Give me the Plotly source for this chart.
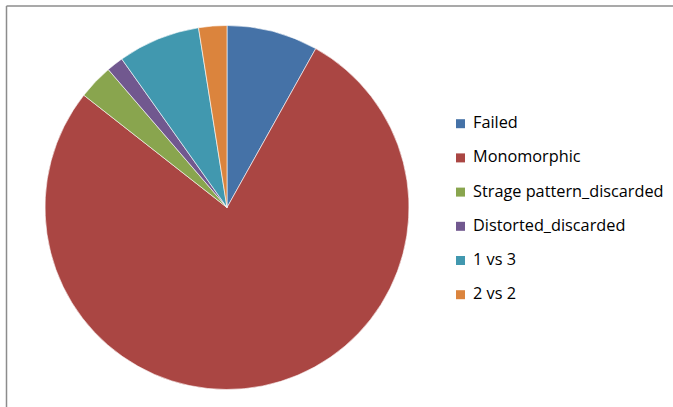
import plotly.graph_objects as go

# Share of markers by outcome (%)
labels = ["Failed", "Monomorphic", "Strage pattern_discarded",
          "Distorted_discarded", "1 vs 3", "2 vs 2"]
values = [8.1, 77.4, 3.1, 1.5, 7.3, 2.5]
colors = ["#4572A7", "#AA4643", "#89A54E", "#71588F", "#4198AF", "#DB843D"]

W, H = 673, 407
FONT = "Open Sans"

fig = go.Figure()
fig.add_trace(go.Pie(
    labels=labels, values=values, sort=False, direction="clockwise",
    rotation=0, textinfo="none", hoverinfo="label+percent",
    marker=dict(colors=colors, line=dict(color="white", width=0.6)),
    domain=dict(x=[45 / W, 409 / W], y=[(H - 389.5) / H, (H - 25.5) / H]),
    showlegend=False,
))

# Legend drawn as squares + text at right
shapes = []
annotations = []
y_first, step = 123.7, 34.2
for i, (lab, col) in enumerate(zip(labels, colors)):
    yc = y_first + i * step
    shapes.append(dict(type="rect", xref="paper", yref="paper",
                       x0=456 / W, x1=465 / W,
                       y0=(H - yc - 4.5) / H, y1=(H - yc + 4.5) / H,
                       fillcolor=col, line=dict(width=0)))
    annotations.append(dict(x=470.5 / W, y=(H - yc + 1.5) / H, xref="paper", yref="paper",
                            text=lab, showarrow=False, xanchor="left", yanchor="middle",
                            font=dict(family=FONT, size=16.3, color="#000000")))

# Chart-area border (top and left edges visible)
border = "#8C8C8C"
shapes.append(dict(type="line", xref="paper", yref="paper",
                   x0=6.5 / W, x1=1.0, y0=(H - 6) / H, y1=(H - 6) / H,
                   line=dict(color=border, width=1.5)))
shapes.append(dict(type="line", xref="paper", yref="paper",
                   x0=6.5 / W, x1=6.5 / W, y0=0, y1=(H - 6) / H,
                   line=dict(color=border, width=1.5)))

fig.update_layout(
    width=W, height=H, margin=dict(l=0, r=0, t=0, b=0),
    paper_bgcolor="white", plot_bgcolor="white",
    shapes=shapes, annotations=annotations,
)

fig.write_html("out.html")
